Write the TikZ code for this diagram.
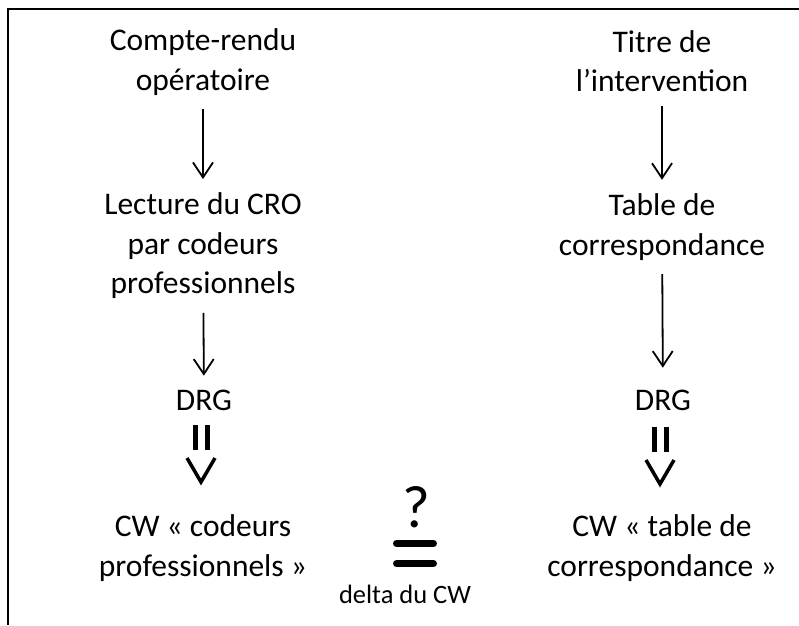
\documentclass[tikz,border=0pt]{standalone}
\usepackage{fontspec}
\setmainfont{Carlito}
\usetikzlibrary{arrows.meta, positioning, calc}

\begin{document}
\begin{tikzpicture}[x=1pt, y=-1pt,
  txt/.style={font=\fontsize{31.5}{39.5}\selectfont, align=center,
    inner sep=0pt, outer sep=14pt},
  flow/.style={-{Straight Barb[length=15pt, width=20pt]}, line width=1.8pt},
  bar/.style={line width=5pt},
  chevron/.style={line width=3.5pt, line join=miter},
  eqbar/.style={line width=7pt, line cap=round}
]
\useasboundingbox (0,0) rectangle (799,625);

% Frame
\draw[line width=1.6pt] (799,9) -- (8,9) -- (8,625);

% Left column
\node[txt] (cro)     at (203,62)  {Compte-rendu\\opératoire};
\node[txt] (lecture) at (203,246) {Lecture du CRO\\par codeurs\\professionnels};
\node[txt] (drgL)    at (204,400) {DRG};
\node[txt] (cwL)     at (203,548) {CW « codeurs\\professionnels »};

% Right column
\node[txt] (titre)   at (662,61)  {Titre de\\l’intervention};
\node[txt] (table)   at (662,227) {Table de\\correspondance};
\node[txt] (drgR)    at (663,400) {DRG};
\node[txt] (cwR)     at (662,548) {CW « table de\\correspondance »};

% Arrows
\draw[flow] (cro) -- (lecture);
\draw[flow] (lecture) -- (drgL);
\draw[flow] (titre) -- (table);
\draw[flow, shorten >=8pt] (table) -- (drgR);

% Implication marks
\coordinate (impL) at (201,425);
\coordinate (impR) at (660,427);
\foreach \c in {impL, impR} {
  \begin{scope}[shift={(\c)}]
    \draw[bar] (-6,0) -- (-6,25);
    \draw[bar] (6,0) -- (6,25);
    \draw[chevron] (-14,33) -- (0,57) -- (14,33);
  \end{scope}
}

% Comparison
\node[font=\fontsize{60}{60}\selectfont, inner sep=0pt] (quest) at (416,507) {?};
\draw[eqbar] (396.5,543.5) -- (433.5,543.5);
\draw[eqbar] (396.5,563.5) -- (433.5,563.5);
\node[font=\fontsize{26.5}{32}\selectfont, anchor=base, inner sep=0pt] (delta) at (405,603) {delta du CW};

\end{tikzpicture}
\end{document}
